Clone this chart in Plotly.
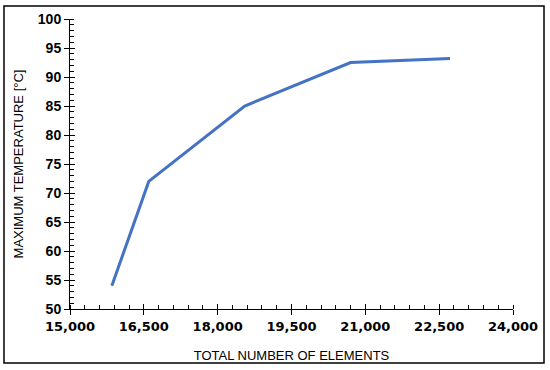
import plotly.graph_objects as go

elements = [15850, 16600, 18550, 20700, 22720]
max_temp = [54.0, 72.0, 85.0, 92.5, 93.2]

x_ticks = [15000, 16500, 18000, 19500, 21000, 22500, 24000]
x_labels = ["15,000", "16,500", "18,000", "19,500", "21,000", "22,500", "24,000"]
y_ticks = [50, 55, 60, 65, 70, 75, 80, 85, 90, 95, 100]

fig = go.Figure()
fig.add_trace(go.Scatter(x=elements, y=max_temp, mode="lines",
                         line=dict(color="#4472C4", width=3), showlegend=False))
# helper empty trace for crossing tick overlay axes
fig.add_trace(go.Scatter(x=[], y=[], xaxis="x2", yaxis="y2", showlegend=False))

tickfont_x = dict(family="DejaVu Sans", size=13, color="#000000", weight="bold")
tickfont_y = dict(family="Liberation Sans", size=14, color="#000000", weight="bold")
titlefont = dict(family="Liberation Sans", size=13, color="#000000")

fig.update_layout(
    width=550, height=370,
    margin=dict(l=70, r=37, t=19, b=61, autoexpand=False),
    paper_bgcolor="white", plot_bgcolor="white",
    xaxis=dict(range=[15000, 24000], tickvals=x_ticks, ticktext=x_labels, automargin=False,
               showgrid=False, zeroline=False, showline=True, linecolor="black", linewidth=1,
               ticks="outside", ticklen=5, tickcolor="black", tickwidth=1,
               minor=dict(dtick=300, ticks="inside", ticklen=4, tickcolor="black", showgrid=False),
               tickfont=tickfont_x,
               title=dict(text="TOTAL NUMBER OF ELEMENTS", font=titlefont, standoff=18)),
    yaxis=dict(range=[50, 100], tickvals=y_ticks, automargin=False,
               showgrid=False, zeroline=False, showline=True, linecolor="black", linewidth=1,
               ticks="outside", ticklen=5, tickcolor="black", tickwidth=1,
               minor=dict(dtick=1, ticks="inside", ticklen=4, tickcolor="black", showgrid=False),
               tickfont=tickfont_y,
               title=dict(text="MAXIMUM TEMPERATURE [°C]", font=titlefont, standoff=11)),
    xaxis2=dict(range=[15000, 24000], tickvals=x_ticks, overlaying="x", showticklabels=False,
                ticks="inside", ticklen=5, tickcolor="black", showgrid=False, zeroline=False,
                showline=False, automargin=False),
    yaxis2=dict(range=[50, 100], tickvals=y_ticks, overlaying="y", showticklabels=False,
                ticks="inside", ticklen=5, tickcolor="black", showgrid=False, zeroline=False,
                showline=False, automargin=False),
    shapes=[dict(type="rect", xref="paper", yref="paper",
                 x0=-0.149, x1=1.070, y0=-0.186, y1=1.045,
                 line=dict(color="black", width=1.5), fillcolor="rgba(0,0,0,0)", layer="below")],
)

fig.write_html("out.html", config={"displayModeBar": False},
               post_script="document.body.style.margin='0px';")
